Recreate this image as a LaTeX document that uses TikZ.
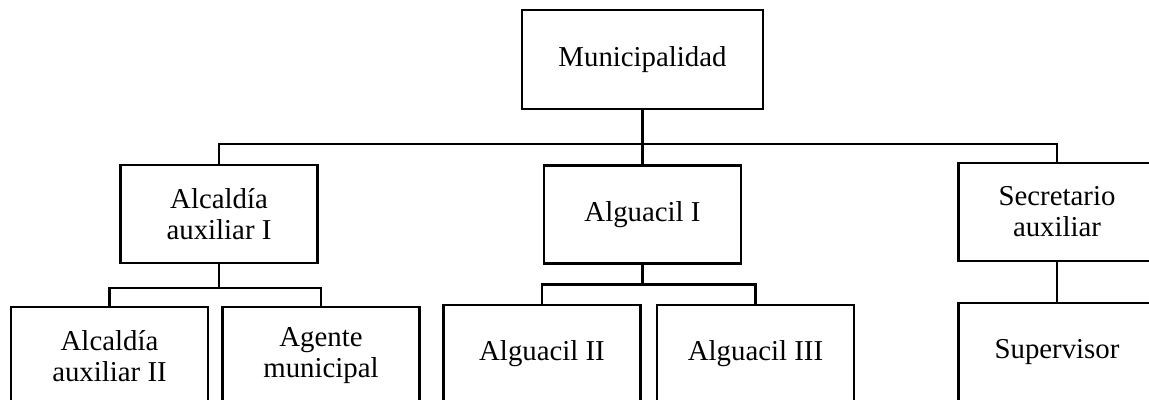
\documentclass[tikz,border=0pt]{standalone}
\usepackage{fontspec}
\setmainfont{Liberation Serif}
\usepackage{tikz}
\usetikzlibrary{positioning}

\begin{document}
\begin{tikzpicture}[
  box/.style={draw, line width=1.2pt, minimum width=3.94cm, minimum height=1.96cm,
    align=center, font=\fontsize{16.4}{17.6}\selectfont, inner sep=2pt},
  link/.style={line width=1.2pt}]
\useasboundingbox (0,0) rectangle (22.98,8);
\clip (0,0) rectangle (22.98,8);
\fill[white] (0,0) rectangle (22.98,8);
\node[box,minimum width=4.82cm,minimum height=1.98cm] (muni) at (12.85,6.81) {Municipalidad};
\node[box] (alcI) at (4.38,3.72) {Alcald\'ia\\auxiliar I};
\node[box] (algI) at (12.85,3.71) {Alguacil I};
\node[box] (secre) at (21.14,3.76) {Secretario\\auxiliar};
\node[box] (alcII) at (2.19,0.88) {Alcald\'ia\\auxiliar II};
\node[box] (agente) at (6.42,0.88) {Agente\\municipal};
\node[box] (algII) at (10.84,0.92) {Alguacil II};
\node[box] (algIII) at (15.11,0.92) {Alguacil III};
\node[box] (superv) at (21.14,0.96) {Supervisor};
% first level
\draw[link] (muni.south) -- (algI.north);
\draw[link] (muni.south) -- ++(0,-0.68) -| (alcI.north);
\draw[link] (muni.south) -- ++(0,-0.68) -| (secre.north);
% second level
\draw[link] (alcI.south) -- ++(0,-0.48) -| (alcII.north);
\draw[link] (alcI.south) -- ++(0,-0.48) -| (agente.north);
\draw[link] (algI.south) -- ++(0,-0.40) -| (algII.north);
\draw[link] (algI.south) -- ++(0,-0.40) -| (algIII.north);
\draw[link] (secre.south) -- (superv.north);
\end{tikzpicture}
\end{document}
